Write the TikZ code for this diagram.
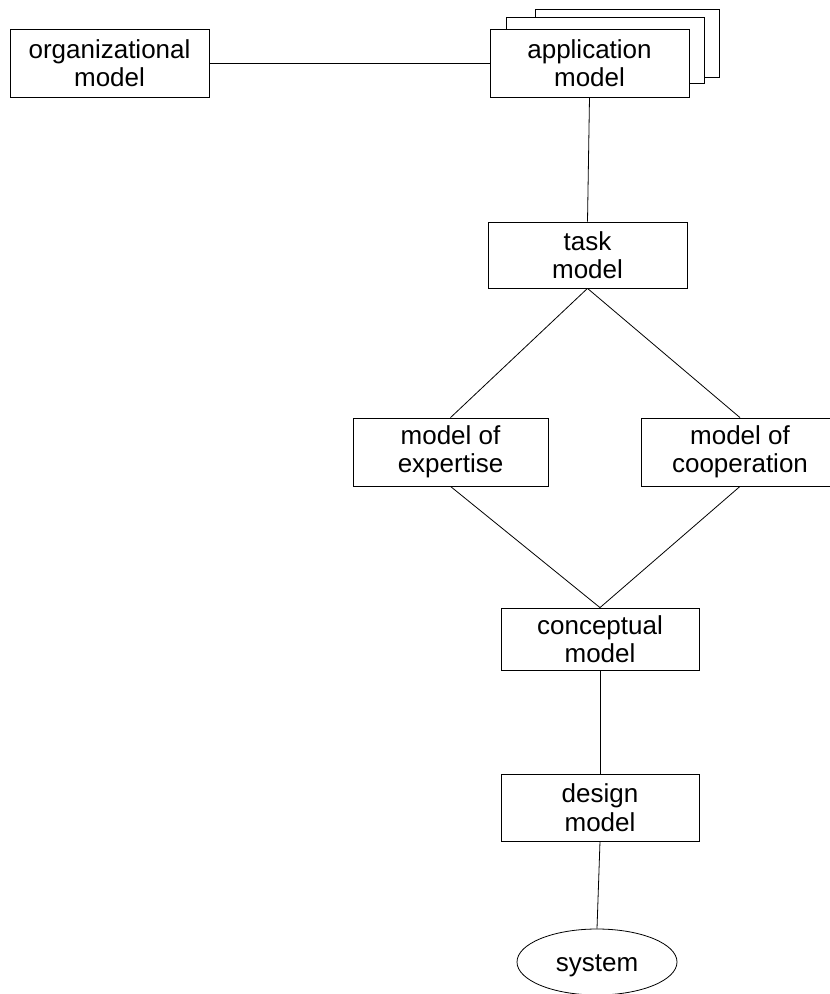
\documentclass[tikz,border=0pt]{standalone}
\usepackage{fontspec}
\setmainfont{Liberation Sans}
\usetikzlibrary{shapes.geometric}
\begin{document}
\begin{tikzpicture}[x=1pt,y=-1pt,
  label font/.style={font=\fontsize{26}{28.5}\selectfont,
    execute at begin node={\rule{0pt}{24pt}}},
  box/.style={draw, fill=white, rectangle, inner sep=0pt, align=center,
    line width=0.8pt, label font},
  oval/.style={draw, fill=white, ellipse, inner sep=0pt,
    line width=0.8pt, label font},
  link/.style={line width=0.8pt}]
\useasboundingbox (0,0) rectangle (830,994);
\clip (0,0) rectangle (830,994);

% stacked copies behind the application model
\node[box, minimum width=184pt, minimum height=68pt] (appback) at (627,43) {};
\node[box, minimum width=198pt, minimum height=66pt] (appmid) at (605,50) {};

% model boxes
\node[box, minimum width=199pt, minimum height=68pt] (org) at (109.5,63) {organizational\\model};
\node[box, minimum width=199pt, minimum height=68pt] (app) at (589.5,63) {application\\model};
\node[box, minimum width=199pt, minimum height=66pt] (task) at (587.5,255) {task\\model};
\node[box, minimum width=195pt, minimum height=68pt] (exp) at (450.5,452) {model of\\expertise};
\node[box, minimum width=198pt, minimum height=68pt] (coop) at (740,452) {model of\\cooperation};
\node[box, minimum width=198pt, minimum height=62pt] (conc) at (600,639) {conceptual\\model};
\node[box, minimum width=198pt, minimum height=67pt] (design) at (600,807.5) {design\\model};
\node[oval, minimum width=160pt, minimum height=66pt] (sys) at (597,962) {system};

% connectors
\draw[link] (org.east) -- (app.west);
\draw[link] (app.south) -- (task.north);
\draw[link] (task.south) -- (exp.north);
\draw[link] (task.south) -- (coop.north);
\draw[link] (exp.south) -- (conc.north);
\draw[link] (coop.south) -- (conc.north);
\draw[link] (conc.south) -- (design.north);
\draw[link] (design.south) -- (sys.north);
\end{tikzpicture}
\end{document}
